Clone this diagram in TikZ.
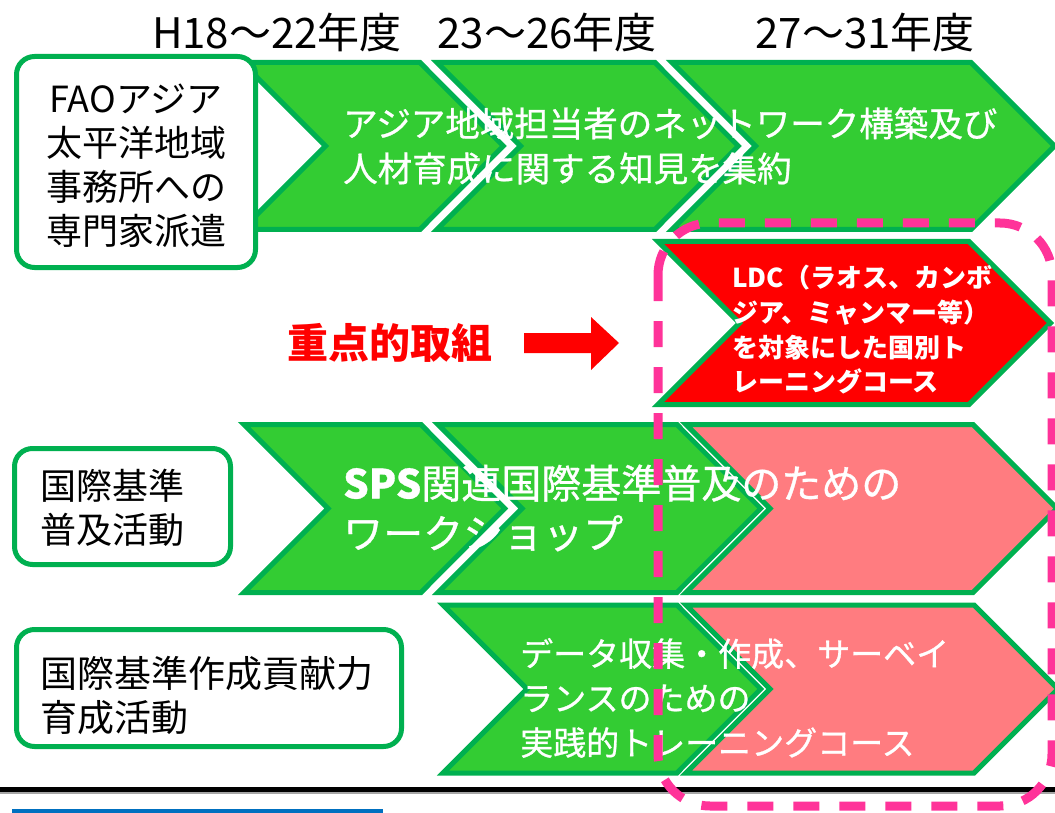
\documentclass[tikz,border=0pt]{standalone}
\usepackage{fontspec}
\setmainfont{Noto Sans CJK JP}
\newfontfamily\jpmed[FakeBold=0.8]{Noto Sans CJK JP}
\definecolor{gfill}{HTML}{33CC33}
\definecolor{gline}{HTML}{00B050}
\definecolor{pinkfill}{HTML}{FF7C80}
\definecolor{mag}{HTML}{FF3399}
\definecolor{barblue}{HTML}{0070C0}
\newcommand{\mychev}[6]{%
  \pgfmathsetmacro{\chvh}{(#5-#4)/2}%
  \pgfmathsetmacro{\chvm}{(#4+#5)/2}%
  \pgfmathsetmacro{\chva}{#3+\chvh}%
  \pgfmathsetmacro{\chvb}{#2+\chvh}%
  \path[#6,line join=round] (#2,#4)--(#3,#4)--(\chva,\chvm)--(#3,#5)--(#2,#5)--(\chvb,\chvm)--cycle;
  \path[chevline,fill=#1] (#2,#4)--(#3,#4)--(\chva,\chvm)--(#3,#5)--(#2,#5)--(\chvb,\chvm)--cycle;
}
\tikzset{
  chevline/.style={draw=gline,line width=5pt,line join=miter},
  wgap/.style={draw=white,line width=#1},
  nogap/.style={draw=none},
  sidebox/.style={draw=gline,line width=5pt,fill=white,rounded corners=18pt},
  yr/.style={inner sep=0pt,font=\fontsize{42}{48}\selectfont},
  blk/.style={inner sep=0pt,font=\fontsize{36}{44}\selectfont,text=black},
  wtxt/.style={inner sep=0pt,text=white,align=left,anchor=west},
}
\begin{document}
\begin{tikzpicture}[x=1pt,y=-1pt]
\useasboundingbox (0,0) rectangle (1055,813);
% year labels
\node[yr] (y1) at (277,33) {H18～22年度};
\node[yr] (y2) at (547,33) {23～26年度};
\node[yr] (y3) at (865,33) {27～31年度};
% row 1
\mychev{gfill}{242}{420}{62.5}{229.5}{nogap}
\mychev{gfill}{437}{655}{62.5}{229.5}{wgap=19pt}
\mychev{gfill}{672}{971}{62.5}{229.5}{wgap=19pt}
\draw[sidebox] (16.5,56.5) rectangle (255.5,267.5);
\node[blk,align=center] (b1) at (136,166) {FAOアジア\\太平洋地域\\事務所への\\専門家派遣};
\node[wtxt,font=\jpmed\fontsize{34.5}{45}\selectfont] (t1) at (343,146) {アジア地域担当者のネットワーク構築及び\\人材育成に関する知見を集約};
% row 2
\mychev{red}{658}{969}{241.5}{404.5}{nogap}
\node[wtxt,font=\bfseries\fontsize{26}{34.7}\selectfont] (t2) at (732,330) {LDC（ラオス、カンボ\\ジア、ミャンマー等）\\を対象にした国別ト\\レーニングコース};
\node[inner sep=0pt,text=red,font=\bfseries\fontsize{41}{48}\selectfont] (k) at (390,343) {重点的取組};
\fill[red] (524,333)--(591,333)--(591,317)--(619,343)--(591,370)--(591,353)--(524,353)--cycle;
% row 3
\mychev{gfill}{244}{421}{424.5}{592.5}{nogap}
\mychev{gfill}{438}{677}{424.5}{592.5}{wgap=19pt}
\mychev{pinkfill}{686}{973}{424.5}{592.5}{wgap=8pt}
\draw[sidebox] (14.5,448.5) rectangle (230.5,564.5);
\node[blk,align=left,anchor=west] (b2) at (40,508) {国際基準\\普及活動};
\node[wtxt,font=\jpmed\fontsize{40}{50}\selectfont] (t3) at (343,508) {{\bfseries SPS}関連国際基準普及のための\\ワークショップ};
% row 4
\mychev{gfill}{443}{677}{605}{773}{nogap}
\mychev{pinkfill}{686}{974}{605}{773}{wgap=8pt}
\draw[sidebox] (16.5,629.5) rectangle (401.5,746.5);
\node[blk,align=left,anchor=west,font=\fontsize{37}{44}\selectfont] (b3) at (40,695) {国際基準作成貢献力\\育成活動};
\node[wtxt,font=\jpmed\fontsize{33}{44.5}\selectfont] (t4) at (520,698) {データ収集・作成、サーベイ\\ランスのための\\実践的トレーニングコース};
% bottom lines
\draw[black,line width=5pt] (0,789.5) -- (1055,789.5);
\draw[black!35,line width=1.5pt] (0,793.2) -- (1055,793.2);
\fill[barblue] (12,809) rectangle (383,813);
% focus frame
\draw[mag,line width=9pt,dash pattern=on 26pt off 20pt,rounded corners=52pt] (658,223) rectangle (1052,806);
\end{tikzpicture}
\end{document}
